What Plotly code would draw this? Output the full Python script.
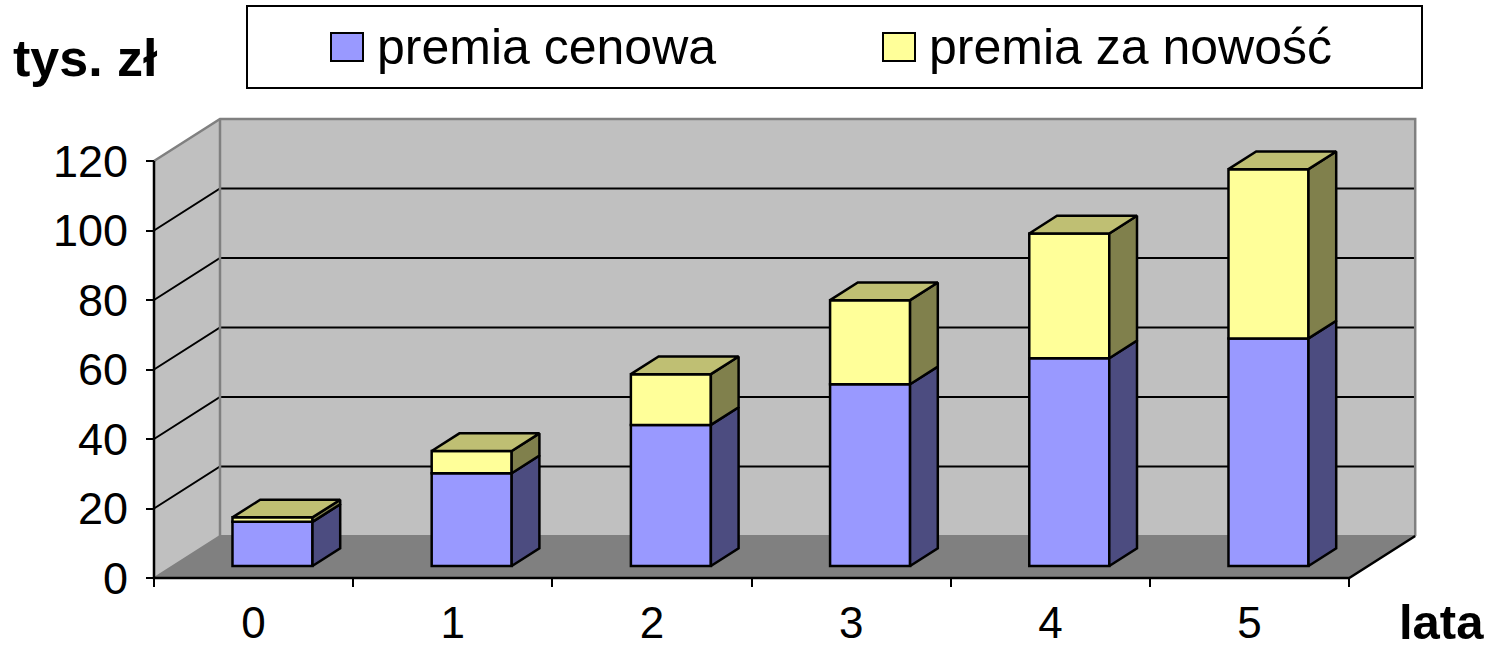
import plotly.graph_objects as go

# ---------------- data ----------------
years = [0, 1, 2, 3, 4, 5]
year_labels = ["0", "1", "2", "3", "4", "5"]
premia_cenowa = [12.7, 26.7, 40.6, 52.3, 59.8, 65.5]
premia_za_nowosc = [1.3, 6.4, 14.6, 24.2, 35.9, 48.7]
y_ticks = [0, 20, 40, 60, 80, 100, 120]
series_names = ["premia cenowa", "premia za nowość"]
y_title = "tys. zł"
x_title = "lata"

# ---------------- geometry ----------------
FIG_W, FIG_H = 1489, 648

# pixel measurements of the reference
L, R, T, B = 140, 1425, 105, 600          # plot area edges
AXX, AXY = 154, 578                       # front y-axis x, front x-axis y
PX_PER_CAT, PX_PER_VAL = 199.2, 3.475
DEPTH_DX_PX, DEPTH_DY_PX = 66, 42
W, H = R - L, B - T

DX = DEPTH_DX_PX / PX_PER_CAT
DY = DEPTH_DY_PX / PX_PER_VAL
x_min = -0.5 - (AXX - L) / PX_PER_CAT
x_max = x_min + W / PX_PER_CAT
y_min = -(B - AXY) / PX_PER_VAL
y_max = y_min + H / PX_PER_VAL

BAR_D0, BAR_D1 = 0.286, 0.706
BAR_W = 80 / PX_PER_CAT

BLUE, BLUE_SIDE = "#9999FF", "#4C4C80"
YEL, YEL_SIDE, YEL_TOP = "#FFFF99", "#80804C", "#BFBF73"
WALL, FLOOR, EDGE = "#C0C0C0", "#808080", "#808080"
FONT = "Arial, Liberation Sans, sans-serif"


def P(x, v, d):
    return (x + d * DX, v + d * DY)


def path(pts, close=True):
    s = "M " + " L ".join(f"{x:.5f},{y:.5f}" for x, y in pts)
    return s + (" Z" if close else "")


def px2paper(px, py):
    return (px - L) / W, (B - py) / H


xl, xr = -0.5, len(years) - 0.5
vmax = y_ticks[-1]

shapes = []


def add_poly(pts, fill):
    shapes.append(dict(type="path", xref="x", yref="y", layer="below",
                       path=path(pts), fillcolor=fill, line=dict(color=fill, width=0)))


def add_line(pts, color, lw):
    shapes.append(dict(type="path", xref="x", yref="y", layer="below",
                       path=path(pts, close=False), line=dict(color=color, width=lw)))


# walls and floor
add_poly([P(xl, 0, 0), P(xl, 0, 1), P(xl, vmax, 1), P(xl, vmax, 0)], WALL)
add_poly([P(xl, 0, 1), P(xr, 0, 1), P(xr, vmax, 1), P(xl, vmax, 1)], WALL)
add_poly([P(xl, 0, 0), P(xr, 0, 0), P(xr, 0, 1), P(xl, 0, 1)], FLOOR)

# gridlines on the walls
for v in y_ticks[1:-1]:
    add_line([P(xl, v, 0), P(xl, v, 1), P(xr, v, 1)], "black", 2)

# gray edges of the walls
add_line([P(xl, vmax, 0), P(xl, vmax, 1), P(xr, vmax, 1), P(xr, 0, 1)], EDGE, 2.5)
add_line([P(xl, 0, 1), P(xl, vmax, 1)], EDGE, 2.5)
add_line([P(xl, 0, 0), P(xl, 0, 1), P(xr, 0, 1)], EDGE, 2)

# black axis edges
add_line([P(xl, vmax, 0), P(xl, 0, 0), P(xr, 0, 0), P(xr, 0, 1)], "black", 2.5)

# ---------------- legend (box, keys and labels) ----------------
lx0, ly0 = px2paper(247, 88)
lx1, ly1 = px2paper(1422, 6)
shapes.append(dict(type="rect", xref="paper", yref="paper", x0=lx0, y0=ly0, x1=lx1, y1=ly1,
                   line=dict(color="black", width=2), fillcolor="white", layer="above"))
annotations = []
legend_items = [(331, 378, BLUE, series_names[0]), (883, 930, YEL, series_names[1])]
for sq_x, tx, col, name in legend_items:
    a0, b0 = px2paper(sq_x, 61)
    a1, b1 = px2paper(sq_x + 32, 33)
    shapes.append(dict(type="rect", xref="paper", yref="paper", x0=a0, y0=b0, x1=a1, y1=b1,
                       line=dict(color="black", width=2), fillcolor=col, layer="above"))
    ax, ay = px2paper(tx - 3, 47)
    annotations.append(dict(xref="paper", yref="paper", x=ax, y=ay, text=name,
                            xanchor="left", yanchor="middle", showarrow=False,
                            font=dict(family=FONT, size=50, color="black")))

ax, ay = px2paper(11, 58)
annotations.append(dict(xref="paper", yref="paper", x=ax, y=ay, text=f"<b>{y_title}</b>",
                        xanchor="left", yanchor="middle", showarrow=False,
                        font=dict(family=FONT, size=52, color="black")))
ax, ay = px2paper(1397, 622)
annotations.append(dict(xref="paper", yref="paper", x=ax, y=ay, text=f"<b>{x_title}</b>",
                        xanchor="left", yanchor="middle", showarrow=False,
                        font=dict(family=FONT, size=49, color="black")))

# ---------------- traces ----------------
fig = go.Figure()
front_x = [i + BAR_D0 * DX for i in years]
base0 = BAR_D0 * DY
totals = [a + b for a, b in zip(premia_cenowa, premia_za_nowosc)]

fig.add_trace(go.Bar(x=front_x, y=premia_cenowa, base=[base0] * len(years), width=BAR_W,
                     name=series_names[0], marker=dict(color=BLUE, line=dict(color="black", width=2.5)),
                     showlegend=False, hoverinfo="skip"))
fig.add_trace(go.Bar(x=front_x, y=premia_za_nowosc, base=[base0 + v for v in premia_cenowa], width=BAR_W,
                     name=series_names[1], marker=dict(color=YEL, line=dict(color="black", width=2.5)),
                     showlegend=False, hoverinfo="skip"))


def faces(kind):
    xs, ys = [], []
    for i, b, t in zip(years, premia_cenowa, totals):
        xlb, xrb = i - BAR_W / 2, i + BAR_W / 2
        if kind == "blue_side":
            pts = [P(xrb, 0, BAR_D0), P(xrb, 0, BAR_D1), P(xrb, b, BAR_D1), P(xrb, b, BAR_D0)]
        elif kind == "yel_side":
            pts = [P(xrb, b, BAR_D0), P(xrb, b, BAR_D1), P(xrb, t, BAR_D1), P(xrb, t, BAR_D0)]
        else:
            pts = [P(xlb, t, BAR_D0), P(xrb, t, BAR_D0), P(xrb, t, BAR_D1), P(xlb, t, BAR_D1)]
        pts = pts + [pts[0]]
        xs += [p[0] for p in pts] + [None]
        ys += [p[1] for p in pts] + [None]
    return xs, ys


for kind, col in [("blue_side", BLUE_SIDE), ("yel_side", YEL_SIDE), ("top", YEL_TOP)]:
    xs, ys = faces(kind)
    fig.add_trace(go.Scatter(x=xs, y=ys, mode="lines", fill="toself", fillcolor=col,
                             line=dict(color="black", width=2.5), showlegend=False,
                             hoverinfo="skip"))

fig.update_layout(
    width=FIG_W, height=FIG_H,
    margin=dict(l=L, r=FIG_W - R, t=T, b=FIG_H - B, pad=0, autoexpand=False),
    paper_bgcolor="white", plot_bgcolor="white",
    barmode="overlay", showlegend=False,
    shapes=shapes, annotations=annotations,
    xaxis=dict(range=[x_min, x_max], anchor="free", position=(B - AXY) / H,
               automargin=False,
               tickmode="array", tickvals=years, ticktext=year_labels, ticks="",
               showgrid=False, zeroline=False, showline=False,
               tickfont=dict(family=FONT, size=44, color="black"), ticklabelstandoff=15,
               minor=dict(tickmode="array", tickvals=[i - 0.5 for i in years] + [xr],
                          ticks="outside", ticklen=8, tickwidth=2, tickcolor="black", showgrid=False),
               fixedrange=True),
    yaxis=dict(range=[y_min, y_max], anchor="free", position=(AXX - L) / W,
               automargin=False,
               tickmode="array", tickvals=y_ticks, ticks="outside", ticklen=8, tickwidth=2,
               tickcolor="black", showgrid=False, zeroline=False, showline=False,
               tickfont=dict(family=FONT, size=45, color="black"), ticklabelstandoff=9,
               fixedrange=True),
)

# remove the default 8px page margin so the figure fills the window exactly
fig.write_html("out.html", config={"displayModeBar": False},
               post_script="document.body.style.margin='0';document.body.style.overflow='hidden';")
